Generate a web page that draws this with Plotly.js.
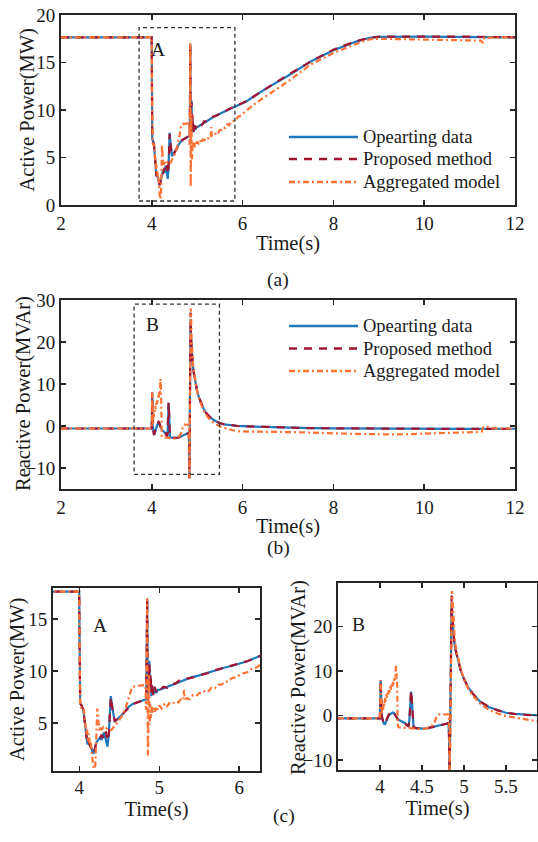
<!DOCTYPE html>
<html><head><meta charset="utf-8">
<script src="https://cdn.plot.ly/plotly-3.0.1.min.js"></script>
<style>html,body{margin:0;padding:0;background:#fff}#chart{width:538px;height:842px}</style>
</head><body><div id="chart"></div>
<script>
// ---------------- data ----------------
const seriesNames = ["Opearting data", "Proposed method", "Aggregated model"];
const seriesColors = ["#1f77bd", "#a2142f", "#ff7233"];

// Active power, operating data & proposed method share time stamps
const tP = [2.0,3.998,4.004,4.01,4.029,4.05,4.07,4.085,4.1,4.115,4.132,4.15,4.174,4.195,4.215,4.235,4.255,4.277,4.306,4.331,4.351,4.368,4.393,4.413,4.442,4.463,4.5,4.545,4.59,4.628,4.67,4.711,4.76,4.814,4.835,4.842,4.848,4.853,4.858,4.866,4.876,4.884,4.892,4.9,4.91,4.925,4.942,4.96,4.98,5.0,5.05,5.1,5.15,5.2,5.25,5.3,5.4,5.5,5.6,5.7,5.8,5.9,6.0,6.1,6.27,6.5,7.0,7.5,8.0,8.5,8.8,9.0,10.0,11.0,12.0];
const P_op = [17.65,17.65,12.0,6.9,6.7,6.2,5.0,3.9,3.05,3.1,2.9,2.6,2.05,2.6,3.2,3.4,3.6,3.4,4.1,3.4,2.75,3.9,7.6,6.5,5.15,5.3,5.55,5.9,6.35,6.65,6.85,6.95,7.1,7.25,7.3,11.0,17.0,11.5,7.1,8.5,11.0,8.0,9.3,7.6,8.6,7.8,8.3,7.9,8.2,8.2,8.35,8.5,8.7,8.85,9.0,9.15,9.4,9.6,9.85,10.1,10.3,10.5,10.75,10.95,11.5,12.2,13.6,15.1,16.3,17.2,17.6,17.7,17.72,17.7,17.65];
const P_pm = [17.65,17.65,12.0,6.9,6.7,6.2,5.0,3.9,3.0,3.2,2.9,2.5,2.1,2.5,3.2,3.3,3.4,3.9,3.5,4.2,3.3,3.8,7.5,6.4,5.2,5.3,5.5,5.9,6.3,6.6,6.85,6.95,7.1,7.2,7.3,11.5,17.0,11.0,7.2,8.8,10.8,8.3,9.8,7.9,8.9,7.7,8.5,8.0,8.3,8.1,8.5,8.4,8.8,8.8,9.1,9.25,9.35,9.6,9.8,10.1,10.3,10.5,10.7,10.95,11.5,12.2,13.7,15.1,16.35,17.25,17.6,17.72,17.74,17.72,17.65];

// Active power, aggregated model
const tP_agg = [2.0,3.998,4.004,4.01,4.02,4.04,4.055,4.065,4.08,4.09,4.1,4.11,4.12,4.13,4.14,4.15,4.16,4.17,4.18,4.19,4.2,4.208,4.215,4.225,4.232,4.24,4.25,4.265,4.28,4.3,4.32,4.34,4.37,4.4,4.43,4.46,4.5,4.54,4.58,4.61,4.64,4.66,4.7,4.75,4.8,4.828,4.833,4.838,4.843,4.848,4.852,4.857,4.862,4.867,4.872,4.877,4.882,4.888,4.895,4.905,4.915,4.93,4.945,4.96,4.98,5.0,5.03,5.06,5.09,5.12,5.16,5.2,5.24,5.27,5.3,5.31,5.32,5.35,5.38,5.42,5.46,5.5,5.54,5.58,5.62,5.66,5.7,5.74,5.78,5.82,5.86,5.9,5.95,6.0,6.05,6.1,6.15,6.2,6.27,6.5,7.0,7.5,8.0,8.5,8.8,9.0,9.5,10.0,10.5,11.0,11.25,11.29,11.3,11.32,12.0];
const P_agg = [17.65,17.65,12.0,6.7,6.5,6.3,6.4,5.5,4.8,3.8,4.4,3.3,4.0,2.9,3.3,2.3,1.7,1.1,0.7,0.6,1.0,2.2,4.5,6.4,5.9,4.9,4.2,4.5,4.4,4.6,4.4,4.5,4.3,4.35,4.6,4.9,5.3,5.8,6.5,7.3,8.2,8.5,8.55,8.6,8.65,8.6,6.3,7.5,12.0,17.0,9.0,1.9,3.5,8.0,9.6,6.5,4.8,6.8,5.5,6.6,6.0,6.5,6.1,6.6,6.3,6.7,6.4,6.8,6.5,6.9,6.8,7.1,7.0,7.3,7.2,8.2,7.3,7.4,7.3,7.7,7.6,7.9,7.9,8.2,8.1,8.5,8.4,8.7,8.7,9.0,9.0,9.3,9.4,9.6,9.8,9.9,10.2,10.3,10.65,11.4,13.0,14.8,16.0,16.95,17.45,17.5,17.45,17.4,17.35,17.35,17.3,17.05,17.4,17.62,17.65];

// Reactive power, operating data & proposed method share time stamps
const tQ = [2.0,3.998,4.004,4.008,4.014,4.02,4.03,4.045,4.06,4.075,4.09,4.105,4.12,4.135,4.15,4.165,4.18,4.2,4.22,4.25,4.28,4.3,4.32,4.34,4.35,4.36,4.37,4.38,4.39,4.4,4.43,4.47,4.52,4.57,4.62,4.67,4.72,4.77,4.815,4.822,4.828,4.834,4.84,4.847,4.853,4.86,4.87,4.885,4.9,4.93,4.96,5.0,5.05,5.1,5.15,5.2,5.3,5.4,5.5,5.6,5.75,5.9,6.0,6.5,7.0,7.5,8.0,9.0,10.0,11.0,12.0];
const Q_op = [-0.6,-0.6,3.0,8.0,4.5,0.0,-1.0,-1.8,-1.9,-1.3,-0.6,0.1,0.3,0.5,0.7,0.6,0.2,-0.4,-0.9,-1.2,-1.4,-1.7,-2.1,-2.4,-1.0,3.0,5.4,3.5,-0.5,-2.6,-2.8,-2.85,-2.9,-2.8,-2.6,-2.3,-2.05,-1.85,-1.7,-4.0,-12.3,-6.0,5.0,18.0,25.5,22.5,19.5,16.5,14.8,12.3,10.2,8.2,6.4,5.0,3.9,3.0,1.9,1.2,0.65,0.4,0.15,0.0,-0.05,-0.25,-0.4,-0.5,-0.55,-0.65,-0.7,-0.7,-0.65];
const Q_pm = [-0.6,-0.6,3.0,8.0,4.5,0.0,-1.1,-1.9,-1.8,-1.0,-0.3,0.3,0.6,0.8,1.0,0.7,0.1,-0.5,-1.0,-1.3,-1.5,-1.8,-2.2,-2.4,-0.8,3.4,5.6,3.2,-0.7,-2.6,-2.8,-2.85,-2.9,-2.8,-2.6,-2.3,-2.05,-1.85,-1.7,-4.5,-12.5,-6.5,6.0,20.0,27.0,23.0,19.8,16.6,14.8,12.4,10.3,8.3,6.5,5.1,4.0,3.1,1.95,1.2,0.7,0.4,0.15,0.0,-0.05,-0.25,-0.4,-0.5,-0.55,-0.65,-0.7,-0.7,-0.65];

// Reactive power, aggregated model
const tQ_agg = [2.0,3.998,4.004,4.008,4.014,4.02,4.028,4.036,4.044,4.052,4.06,4.068,4.076,4.084,4.092,4.1,4.108,4.116,4.124,4.132,4.14,4.148,4.156,4.164,4.172,4.18,4.186,4.19,4.195,4.2,4.205,4.21,4.22,4.25,4.3,4.35,4.4,4.45,4.5,4.55,4.6,4.64,4.66,4.68,4.7,4.75,4.8,4.82,4.825,4.83,4.836,4.842,4.85,4.858,4.866,4.875,4.89,4.91,4.94,4.97,5.0,5.05,5.1,5.15,5.2,5.3,5.4,5.5,5.6,5.7,5.8,5.87,6.0,6.3,6.6,7.0,7.3,7.6,8.0,8.4,8.8,9.2,9.6,10.0,10.4,10.8,11.1,11.27,11.3,11.4,11.5,11.7,12.0];
const Q_agg = [-0.6,-0.6,3.0,8.0,4.0,0.5,2.0,1.0,3.0,2.2,4.0,3.2,4.8,4.0,5.5,4.8,6.0,5.3,6.6,5.8,7.2,6.5,7.8,7.0,8.5,8.0,10.0,11.2,8.8,9.5,7.0,-1.5,-2.6,-2.7,-2.75,-2.8,-2.85,-2.9,-3.0,-2.85,-2.5,-1.9,-1.0,0.0,0.3,0.35,0.4,0.3,-4.0,-12.3,-5.0,8.0,22.0,28.0,26.0,21.0,17.0,14.5,12.0,10.0,8.2,6.1,4.6,3.5,2.6,1.3,0.5,-0.1,-0.45,-0.8,-1.1,-1.25,-1.3,-1.3,-1.4,-1.45,-1.5,-1.65,-1.75,-1.85,-1.95,-2.0,-1.95,-1.85,-1.75,-1.6,-1.45,-1.3,-0.3,-0.2,-0.5,-0.6,-0.6];

// tick labels
const ticksA_x = [2,4,6,8,10,12];
const ticksA_y = [0,5,10,15,20];
const ticksB_y = [-10,0,10,20,30];
const ticksC1_x = [4,5,6];
const ticksC1_y = [5,10,15];
const ticksC2_x = [4,4.5,5,5.5];
const ticksC2_y = [-10,0,10,20];

// axis titles
const xTitle = "Time(s)";
const yTitleP = "Active Power(MW)";
const yTitleQ = "Reactive Power(MVAr)";

// ---------------- styling ----------------
const FONT = "Liberation Serif";
const INK = "#262626";
const TXT = "#1a1a1a";
const dashes = ["solid", "8px,7px", "6px,3px,2px,3px"];
const widths = [2.2, 2.2, 2.2];

const pSets = [[tP, P_op], [tP, P_pm], [tP_agg, P_agg]];
const qSets = [[tQ, Q_op], [tQ, Q_pm], [tQ_agg, Q_agg]];

const traces = [];
function addTraces(sets, xa, ya) {
  sets.forEach((s, i) => {
    traces.push({
      x: s[0], y: s[1], type: "scatter", mode: "lines", name: seriesNames[i],
      xaxis: xa, yaxis: ya, showlegend: false,
      line: {color: seriesColors[i], width: widths[i], dash: dashes[i]}
    });
  });
}
addTraces(pSets, "x", "y");
addTraces(qSets, "x2", "y2");
addTraces(pSets, "x3", "y3");
addTraces(qSets, "x4", "y4");

function ax(extra) {
  return Object.assign({
    showline: true, mirror: "ticks", linecolor: INK, linewidth: 2,
    ticks: "inside", ticklen: 5, tickwidth: 1.5, tickcolor: INK,
    showgrid: false, zeroline: false, fixedrange: true,
    tickfont: {family: FONT, size: 19, color: TXT},
    tickmode: "array"
  }, extra);
}
function ttl(text, standoff) {
  return {text: text, font: {family: FONT, size: 20.5, color: TXT}, standoff: standoff};
}

const H = 842, W = 538;
const py = v => 1 - v / H, px = v => v / W;

const shapes = [];
const annotations = [];

// zoom boxes
shapes.push({type: "rect", xref: "x", yref: "y", x0: 3.72, x1: 5.83, y0: 0.42, y1: 18.67,
  line: {color: "#333", width: 1.3, dash: "4px,3px"}});
shapes.push({type: "rect", xref: "x2", yref: "y2", x0: 3.61, x1: 5.49, y0: -11.5, y1: 29.0,
  line: {color: "#333", width: 1.3, dash: "4px,3px"}});

// manual legends
function legend(rowsY) {
  rowsY.forEach((yy, i) => {
    shapes.push({type: "line", xref: "paper", yref: "paper", x0: px(289), x1: px(358), y0: py(yy), y1: py(yy),
      line: {color: seriesColors[i], width: 2.5, dash: dashes[i]}});
    annotations.push({xref: "paper", yref: "paper", x: px(361), y: py(yy), xanchor: "left", yanchor: "middle",
      text: seriesNames[i], showarrow: false, font: {family: FONT, size: 18.5, color: TXT}});
  });
}
legend([137, 159, 182]);
legend([326, 348.5, 371]);

// y-axis titles (rotated)
const yt = (text, x, y) => ({xref: "paper", yref: "paper", x: px(x), y: py(y), text: text, textangle: -90,
  showarrow: false, xanchor: "center", yanchor: "middle", font: {family: FONT, size: 20.5, color: TXT}});
annotations.push(yt(yTitleP, 27, 110.5));
annotations.push(yt(yTitleQ, 23, 394));
annotations.push(yt(yTitleP, 17.5, 679.5));
annotations.push(yt(yTitleQ, 298.5, 677.5));

const lab = (text, xr, yr, x, y) => ({xref: xr, yref: yr, x: x, y: y, text: text, showarrow: false,
  font: {family: FONT, size: 19.5, color: TXT}});
annotations.push(lab("A", "x", "y", 4.14, 16.4));
annotations.push(lab("B", "x2", "y2", 4.02, 24.2));
annotations.push(lab("A", "x3", "y3", 4.26, 14.4));
annotations.push(lab("B", "x4", "y4", 3.74, 20.4));
annotations.push(lab("(a)", "paper", "paper", px(278), py(267)));
annotations.push(lab("(b)", "paper", "paper", px(278), py(548)));
annotations.push(lab("(c)", "paper", "paper", px(284), py(829)));

const layout = {
  width: W, height: H, margin: {l: 0, r: 0, t: 0, b: 0},
  paper_bgcolor: "#fff", plot_bgcolor: "#fff", showlegend: false,
  font: {family: FONT, color: TXT},
  xaxis: ax({domain: [px(61), px(515)], range: [2, 12], tickvals: ticksA_x, anchor: "y", title: ttl(xTitle, 3)}),
  yaxis: ax({domain: [py(205), py(15)], range: [0, 20], tickvals: ticksA_y, anchor: "x"}),
  xaxis2: ax({domain: [px(61), px(515)], range: [2, 12], tickvals: ticksA_x, anchor: "y2", title: ttl(xTitle, 2)}),
  yaxis2: ax({domain: [py(489), py(300)], range: [-15, 30], tickvals: ticksB_y, anchor: "x2"}),
  xaxis3: ax({domain: [px(53), px(260)], range: [3.67, 6.26], tickvals: ticksC1_x, anchor: "y3", ticklabelstandoff: -2, title: ttl(xTitle, 0)}),
  yaxis3: ax({domain: [py(771), py(588)], range: [0.4, 18], tickvals: ticksC1_y, anchor: "x3"}),
  xaxis4: ax({domain: [px(338), px(537)], range: [3.5, 5.87], tickvals: ticksC2_x, anchor: "y4", ticklabelstandoff: -2, title: ttl(xTitle, 0)}),
  yaxis4: ax({domain: [py(770), py(583)], range: [-12.2, 29.8], tickvals: ticksC2_y, anchor: "x4"}),
  shapes: shapes, annotations: annotations
};

Plotly.newPlot("chart", traces, layout, {staticPlot: true, displayModeBar: false});
</script>
</body></html>
